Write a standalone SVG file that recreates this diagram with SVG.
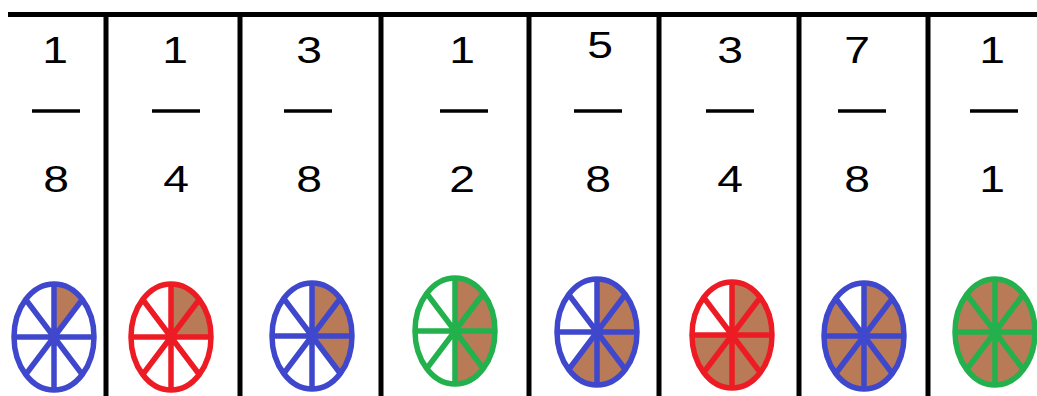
<svg xmlns="http://www.w3.org/2000/svg" xmlns:xlink="http://www.w3.org/1999/xlink" width="1037" height="396" viewBox="0 0 1037 396">
<style>
.rule{stroke:#000;stroke-width:5;fill:none}
.num{font-family:"Liberation Sans",Arial,sans-serif;font-size:37px;fill:#000;text-anchor:middle}
.bar{stroke:#000;stroke-width:3.5}
.shade{fill:#b97a57}
.rim{fill:none;stroke-width:5.5}
.spk{fill:none;stroke-width:5.5}
.b{stroke:#3f48cc}.r{stroke:#ed1c24}.g{stroke:#22b14c}
</style>
<defs>
<path id="spokes" d="M0,-53V53M-40,0H40M-28.28,-37.48L28.28,37.48M28.28,-37.48L-28.28,37.48"/>
</defs>
<rect width="1037" height="396" fill="#fff"/>
<g id="grid">
<path class="rule" d="M8,14.5H1037M106,14V396M240,14V396M381,14V396M529,14V396M659,14V396M799,14V396M928,14V396"/>
</g>
<g id="col1">
<text class="num" transform="translate(55,63) scale(1.25,1)">1</text><line class="bar" x1="32" y1="111" x2="80" y2="111"/><text class="num" transform="translate(56,192) scale(1.25,1)">8</text>
<g transform="translate(54,337)"><path class="shade" d="M0,0L0,-53A40,53 0 0,1 28.28,-37.48Z"/><use xlink:href="#spokes" class="spk b"/><ellipse class="rim b" rx="40" ry="53"/></g>
</g>
<g id="col2">
<text class="num" transform="translate(175,63) scale(1.25,1)">1</text><line class="bar" x1="152" y1="111" x2="200" y2="111"/><text class="num" transform="translate(176,192) scale(1.25,1)">4</text>
<g transform="translate(171,337)"><path class="shade" d="M0,0L0,-53A40,53 0 0,1 40,0Z"/><use xlink:href="#spokes" class="spk r"/><ellipse class="rim r" rx="40" ry="53"/></g>
</g>
<g id="col3">
<text class="num" transform="translate(309,63) scale(1.25,1)">3</text><line class="bar" x1="284" y1="111" x2="332" y2="111"/><text class="num" transform="translate(309,192) scale(1.25,1)">8</text>
<g transform="translate(312,336)"><path class="shade" d="M0,0L0,-53A40,53 0 0,1 28.28,37.48Z"/><use xlink:href="#spokes" class="spk b"/><ellipse class="rim b" rx="40" ry="53"/></g>
</g>
<g id="col4">
<text class="num" transform="translate(462,63) scale(1.25,1)">1</text><line class="bar" x1="440" y1="111" x2="488" y2="111"/><text class="num" transform="translate(462,192) scale(1.25,1)">2</text>
<g transform="translate(455,331)"><path class="shade" d="M0,0L0,-53A40,53 0 0,1 0,53Z"/><use xlink:href="#spokes" class="spk g"/><ellipse class="rim g" rx="40" ry="53"/></g>
</g>
<g id="col5">
<text class="num" transform="translate(600,58) scale(1.25,1)">5</text><line class="bar" x1="574" y1="111" x2="622" y2="111"/><text class="num" transform="translate(598,192) scale(1.25,1)">8</text>
<g transform="translate(597,332)"><path class="shade" d="M0,0L0,-53A40,53 0 1,1 -28.28,37.48Z"/><use xlink:href="#spokes" class="spk b"/><ellipse class="rim b" rx="40" ry="53"/></g>
</g>
<g id="col6">
<text class="num" transform="translate(730,63) scale(1.25,1)">3</text><line class="bar" x1="706" y1="111" x2="754" y2="111"/><text class="num" transform="translate(730,192) scale(1.25,1)">4</text>
<g transform="translate(732,335)"><path class="shade" d="M0,0L0,-53A40,53 0 1,1 -40,0Z"/><use xlink:href="#spokes" class="spk r"/><ellipse class="rim r" rx="40" ry="53"/></g>
</g>
<g id="col7">
<text class="num" transform="translate(857,63) scale(1.25,1)">7</text><line class="bar" x1="838" y1="111" x2="886" y2="111"/><text class="num" transform="translate(857,192) scale(1.25,1)">8</text>
<g transform="translate(864,336)"><path class="shade" d="M0,0L0,-53A40,53 0 1,1 -28.28,-37.48Z"/><use xlink:href="#spokes" class="spk b"/><ellipse class="rim b" rx="40" ry="53"/></g>
</g>
<g id="col8">
<text class="num" transform="translate(992,63) scale(1.25,1)">1</text><line class="bar" x1="970" y1="111" x2="1018" y2="111"/><text class="num" transform="translate(992,192) scale(1.25,1)">1</text>
<g transform="translate(995,332)"><ellipse class="shade" rx="40" ry="53"/><use xlink:href="#spokes" class="spk g"/><ellipse class="rim g" rx="40" ry="53"/></g>
</g>
</svg>
